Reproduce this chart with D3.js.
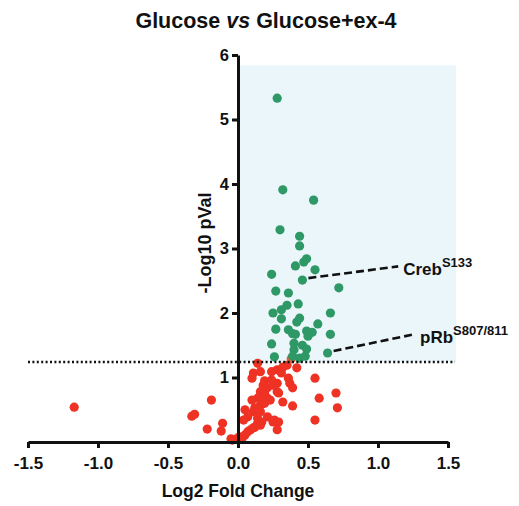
<!DOCTYPE html>
<html>
<head>
<meta charset="utf-8">
<script src="https://cdn.jsdelivr.net/npm/d3@7"></script>
<style>
  html, body { margin: 0; padding: 0; background: #fff; }
  svg text { font-family: "Liberation Sans", Arial, Helvetica, sans-serif; font-weight: bold; fill: #111; }
</style>
</head>
<body>
<svg id="chart" width="519" height="506"></svg>
<script>
// ---- data (Log2 fold change, -Log10 pVal) ----
const significant = [
  [0.28,5.33],[0.32,3.91],[0.54,3.75],[0.30,3.29],[0.44,3.19],[0.44,3.04],
  [0.41,2.73],[0.47,2.79],[0.49,2.84],[0.55,2.67],[0.24,2.60],[0.46,2.51],
  [0.72,2.39],[0.27,2.34],[0.36,2.31],[0.35,2.12],[0.43,2.14],[0.25,2.00],
  [0.31,2.05],[0.66,2.00],[0.44,1.92],[0.42,1.86],[0.31,1.91],[0.57,1.83],
  [0.27,1.75],[0.36,1.74],[0.41,1.67],[0.39,1.68],[0.49,1.72],[0.53,1.70],
  [0.50,1.64],[0.66,1.67],[0.24,1.52],[0.40,1.53],[0.46,1.50],[0.40,1.43],
  [0.49,1.44],[0.39,1.33],[0.44,1.30],[0.48,1.33],[0.64,1.38],[0.26,1.32]
];
const notSignificant = [
  [-1.17,0.54],[-0.33,0.40],[-0.31,0.43],[-0.19,0.65],[-0.22,0.20],[-0.11,0.29],
  [-0.12,0.17],[-0.05,0.05],[-0.04,0.03],[-0.01,0.05],[0.01,0.08],[0.03,0.06],
  [0.05,0.11],[0.07,0.16],[0.09,0.19],[0.11,0.22],[0.12,0.23],[0.14,1.22],
  [0.11,1.07],[0.16,1.09],[0.24,1.09],[0.28,1.12],[0.32,1.16],[0.35,1.19],
  [0.42,1.15],[0.31,1.07],[0.10,0.99],[0.19,0.95],[0.24,0.96],[0.28,0.91],
  [0.36,0.99],[0.37,0.91],[0.55,0.99],[0.18,0.88],[0.21,0.84],[0.25,0.88],
  [0.28,0.78],[0.39,0.84],[0.16,0.78],[0.19,0.76],[0.29,0.76],[0.70,0.76],
  [0.58,0.68],[0.71,0.53],[0.55,0.34],[0.10,0.65],[0.14,0.68],[0.17,0.67],
  [0.21,0.68],[0.23,0.65],[0.16,0.57],[0.19,0.60],[0.32,0.62],[0.39,0.56],
  [0.05,0.50],[0.12,0.53],[0.11,0.47],[0.16,0.47],[0.07,0.39],[0.14,0.37],
  [0.21,0.39],[0.26,0.34],[0.29,0.31],[0.17,0.31],[0.04,0.34],[0.14,0.29],
  [0.25,0.31],[0.28,0.19],[0.16,0.26]
];
const borderline = [[0.38,1.29]];
const labels = [
  { name: "Creb", site: "S133", point: [0.46,2.51], text: [1.18,2.80] },
  { name: "pRb", site: "S807/811", point: [0.64,1.38], text: [1.30,1.75] }
];
const xTicks = [-1.5,-1.0,-0.5,0.0,0.5,1.0,1.5];
const yTicks = [1,2,3,4,5,6];
const threshold = 1.24;
const regionX = [0, 1.557];
const regionY = [threshold, 5.84];

// ---- layout ----
const svg = d3.select("#chart");
const x = d3.scaleLinear().domain([-1.5, 1.5]).range([28, 448]);
const y = d3.scaleLinear().domain([0, 6]).range([442, 55]);
const green = "#2e9866", red = "#ee3224", orange = "#ea5a35";

// shaded region
svg.append("rect")
  .attr("x", x(regionX[0])).attr("y", y(regionY[1]))
  .attr("width", x(regionX[1]) - x(regionX[0]))
  .attr("height", y(regionY[0]) - y(regionY[1]))
  .attr("fill", "#eaf6fa");

// points
function dots(data, color) {
  svg.append("g").selectAll("circle").data(data).join("circle")
    .attr("cx", d => x(d[0])).attr("cy", d => y(d[1])).attr("r", 4.6)
    .attr("fill", color);
}
dots(notSignificant, red);
dots(borderline, orange);
dots(significant, green);

// threshold line
svg.append("line")
  .attr("x1", x(-1.5)).attr("x2", x(1.55))
  .attr("y1", y(threshold)).attr("y2", y(threshold))
  .attr("stroke", "#111").attr("stroke-width", 2.4)
  .attr("stroke-dasharray", "2,2.4");

// axes
const xAxis = svg.append("g").attr("transform", `translate(0,${y(0)})`)
  .call(d3.axisBottom(x).tickValues(xTicks).tickFormat(d => d.toFixed(1))
    .tickSize(6).tickSizeOuter(0).tickPadding(9));
const yAxis = svg.append("g").attr("transform", `translate(${x(0)},0)`)
  .call(d3.axisLeft(y).tickValues(yTicks).tickFormat(d => String(d))
    .tickSize(6).tickSizeOuter(0).tickPadding(3));
[xAxis, yAxis].forEach(g => {
  g.select(".domain").attr("stroke", "#111").attr("stroke-width", 3);
  g.selectAll(".tick line").attr("stroke", "#111").attr("stroke-width", 3);
  g.selectAll(".tick text").attr("fill", "#111")
    .style("font-family", '"Liberation Sans", Arial, sans-serif')
    .style("font-weight", "bold");
});
xAxis.selectAll(".tick text").style("font-size", "17px");
yAxis.selectAll(".tick text").style("font-size", "16.5px");

// annotations
labels.forEach(l => {
  svg.append("line")
    .attr("x1", x(l.point[0]) + 6).attr("y1", y(l.point[1]) - 2)
    .attr("x2", x(l.text[0]) - 5).attr("y2", y(l.text[1]) + 5)
    .attr("stroke", "#111").attr("stroke-width", 2.6)
    .attr("stroke-dasharray", "8,4");
  const t = svg.append("text")
    .attr("x", x(l.text[0])).attr("y", y(l.text[1]) + 14)
    .style("font-size", "17px");
  t.append("tspan").text(l.name);
  t.append("tspan").attr("dy", -8).style("font-size", "13px").text(l.site);
});

// titles
const title = svg.append("text").attr("x", 266).attr("y", 28)
  .attr("text-anchor", "middle").style("font-size", "21.5px");
title.append("tspan").text("Glucose ");
title.append("tspan").style("font-style", "italic").text("vs");
title.append("tspan").text(" Glucose+ex-4");

svg.append("text").attr("x", 238).attr("y", 497)
  .attr("text-anchor", "middle").style("font-size", "17.5px")
  .text("Log2 Fold Change");

svg.append("text")
  .attr("transform", "translate(211,243) rotate(-90)")
  .attr("text-anchor", "middle").style("font-size", "18px")
  .text("-Log10 pVal");
</script>
</body>
</html>
